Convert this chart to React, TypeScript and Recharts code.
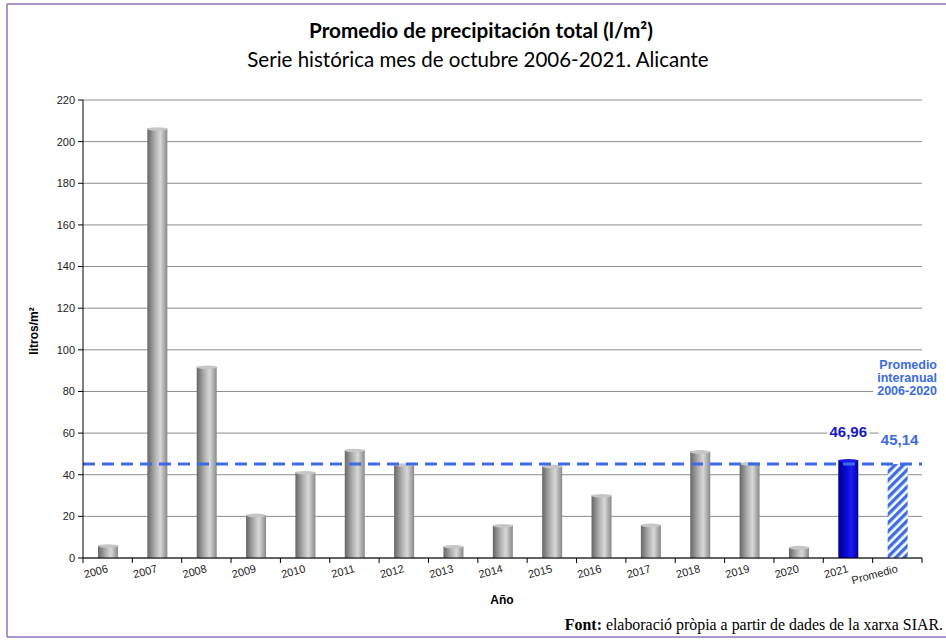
import React from 'react';
import { ComposedChart, Bar, XAxis, YAxis, CartesianGrid, ReferenceLine, Cell, LabelList } from 'recharts';

const years = ['2006', '2007', '2008', '2009', '2010', '2011', '2012', '2013', '2014', '2015', '2016', '2017', '2018', '2019', '2020', '2021', 'Promedio'];
const values = [6.0, 206.3, 91.9, 20.7, 41.2, 51.9, 44.9, 5.6, 15.7, 44.2, 30.1, 15.9, 51.2, 45.5, 5.2, 46.96, 45.14];
const kinds = ['grey', 'grey', 'grey', 'grey', 'grey', 'grey', 'grey', 'grey', 'grey', 'grey', 'grey', 'grey', 'grey', 'grey', 'grey', 'blue', 'hatch'];
const yTicks = [0, 20, 40, 60, 80, 100, 120, 140, 160, 180, 200, 220];
const averageValue = 45.14;
const labelled = ['2021', 'Promedio'];

const data = years.map((y, i) => ({ year: y, value: values[i], kind: kinds[i] }));

const W = 946;
const H = 641;
const PLOT_LEFT = 83;
const PLOT_RIGHT = 922;
const BW = (PLOT_RIGHT - PLOT_LEFT) / years.length;

const fills: Record<string, string> = { grey: 'url(#gGrey)', blue: 'url(#gBlue)', hatch: 'url(#hatch)' };

const CylBar = (props: any) => {
  const { x, y, width, height, fill, payload } = props;
  if (!height || height <= 0) return null;
  const capFill = payload && payload.kind === 'grey' ? '#c6c6c6' : payload && payload.kind === 'blue' ? '#1a1ae0' : 'none';
  return (
    <g>
      <rect x={x} y={y} width={width} height={height} fill={fill} />
      {capFill !== 'none' && <ellipse cx={x + width / 2} cy={y + 0.5} rx={width / 2} ry={1.8} fill={capFill} />}
    </g>
  );
};

const XTick = (props: any) => {
  const { x, y, payload, index } = props;
  const isLast = index === years.length - 1;
  return (
    <g>
      <line x1={x - BW / 2} x2={x - BW / 2} y1={y} y2={y + 5} stroke="#000" strokeWidth={1} />
      {isLast && <line x1={x + BW / 2} x2={x + BW / 2} y1={y} y2={y + 5} stroke="#000" strokeWidth={1} />}
      <text
        x={x + 1}
        y={y + 14}
        textAnchor="end"
        transform={`rotate(-15, ${x + 1}, ${y + 14})`}
        fontFamily="'Liberation Sans', Arial, sans-serif"
        fontSize={11}
        fill="#222"
      >
        {payload.value}
      </text>
    </g>
  );
};

const renderValueLabel = (props: any) => {
  const { x, y, width, value, index } = props;
  const cat = years[index];
  if (!labelled.includes(cat)) return null;
  const txt = Number(value).toFixed(2).replace('.', ',');
  const isAvg = cat === 'Promedio';
  const cx = x + width / 2 + (isAvg ? 2 : 0);
  const by = y - (isAvg ? 19 : 23);
  const color = isAvg ? '#3c6be0' : '#1717c8';
  return (
    <g>
      <rect x={cx - 21} y={by - 14} width={isAvg ? 60 : 42} height={18} fill="#fff" />
      <text x={cx} y={by} textAnchor="middle" fontFamily="'Liberation Sans', Arial, sans-serif" fontWeight="bold" fontSize={15} fill={color}>
        {txt}
      </text>
    </g>
  );
};

export default function App() {
  return (
    <div style={{ position: 'absolute', left: 0, top: 0, width: W, height: H, background: '#fff' }}>
      <ComposedChart
        width={W}
        height={H}
        data={data}
        margin={{ top: 100, right: W - PLOT_RIGHT, bottom: 43, left: PLOT_LEFT - 60 }}
      >
        <defs>
          <linearGradient id="gGrey" x1="0" y1="0" x2="1" y2="0">
            <stop offset="0%" stopColor="#666666" />
            <stop offset="40%" stopColor="#b2b2b2" />
            <stop offset="65%" stopColor="#d8d8d8" />
            <stop offset="100%" stopColor="#888888" />
          </linearGradient>
          <linearGradient id="gBlue" x1="0" y1="0" x2="1" y2="0">
            <stop offset="0%" stopColor="#00008c" />
            <stop offset="45%" stopColor="#0c0cd8" />
            <stop offset="65%" stopColor="#1c1cf0" />
            <stop offset="100%" stopColor="#0000a8" />
          </linearGradient>
          <pattern id="hatch" patternUnits="userSpaceOnUse" width={6} height={6} patternTransform="rotate(45)">
            <rect x={0} y={0} width={6} height={6} fill="#ffffff" />
            <rect x={0} y={0} width={3.4} height={6} fill="#3f6ee2" />
          </pattern>
        </defs>
        <CartesianGrid vertical={false} stroke="#8c8c8c" strokeWidth={1} />
        <XAxis
          dataKey="year"
          height={40}
          interval={0}
          tickLine={false}
          tickSize={0}
          tickMargin={0}
          axisLine={{ stroke: '#000', strokeWidth: 1 }}
          tick={<XTick />}
        />
        <YAxis
          width={60}
          domain={[0, 220]}
          ticks={yTicks}
          interval={0}
          tickSize={5}
          tickMargin={3}
          axisLine={{ stroke: '#000', strokeWidth: 1 }}
          tickLine={{ stroke: '#000', strokeWidth: 1 }}
          tick={{ fontFamily: "'Liberation Sans', Arial, sans-serif", fontSize: 11, fill: '#222' }}
        />
        <Bar dataKey="value" barSize={20} isAnimationActive={false} shape={<CylBar />}>
          {data.map((d, i) => (
            <Cell key={i} fill={fills[d.kind]} />
          ))}
          <LabelList dataKey="value" content={renderValueLabel} />
        </Bar>
        <ReferenceLine y={averageValue} stroke="#3d6be5" strokeWidth={3} strokeDasharray="12 7" />
      </ComposedChart>
      <svg width={W} height={H} style={{ position: 'absolute', left: 0, top: 0, pointerEvents: 'none' }}>
        <line x1={7} y1={4} x2={W} y2={4} stroke="#8e72bd" strokeWidth={1.5} />
        <line x1={7} y1={4} x2={7} y2={637} stroke="#8e72bd" strokeWidth={1.5} />
        <line x1={7} y1={637} x2={W} y2={637} stroke="#8e72bd" strokeWidth={1.5} />
        <text x={481} y={38} textAnchor="middle" fontFamily="Lato, 'Noto Sans', sans-serif" fontWeight="bold" fontSize={20.7} fill="#000">
          Promedio de precipitación total (l/m²)
        </text>
        <text x={478} y={67} textAnchor="middle" fontFamily="Lato, 'Noto Sans', sans-serif" fontSize={20.5} fill="#000">
          Serie histórica mes de octubre 2006-2021. Alicante
        </text>
        <text
          x={38}
          y={331}
          textAnchor="middle"
          transform="rotate(-90, 38, 331)"
          fontFamily="'Liberation Sans', Arial, sans-serif"
          fontWeight="bold"
          fontSize={12}
          fill="#000"
        >
          litros/m²
        </text>
        <text x={502} y={604} textAnchor="middle" fontFamily="'Liberation Sans', Arial, sans-serif" fontWeight="bold" fontSize={12} fill="#000">
          Año
        </text>
        <rect x={873} y={356} width={73} height={42} fill="#fff" />
        <text textAnchor="end" fontFamily="'Liberation Sans', Arial, sans-serif" fontWeight="bold" fontSize={12.5} fill="#3c6be0">
          <tspan x={937} y={369}>Promedio</tspan>
          <tspan x={937} y={382}>interanual</tspan>
          <tspan x={937} y={395}>2006-2020</tspan>
        </text>
        <text x={943} y={630} textAnchor="end" fontFamily="'Liberation Serif', 'Times New Roman', serif" fontSize={15.9} fill="#000">
          <tspan fontWeight="bold">Font:</tspan> elaboració pròpia a partir de dades de la xarxa SIAR.
        </text>
      </svg>
    </div>
  );
}
